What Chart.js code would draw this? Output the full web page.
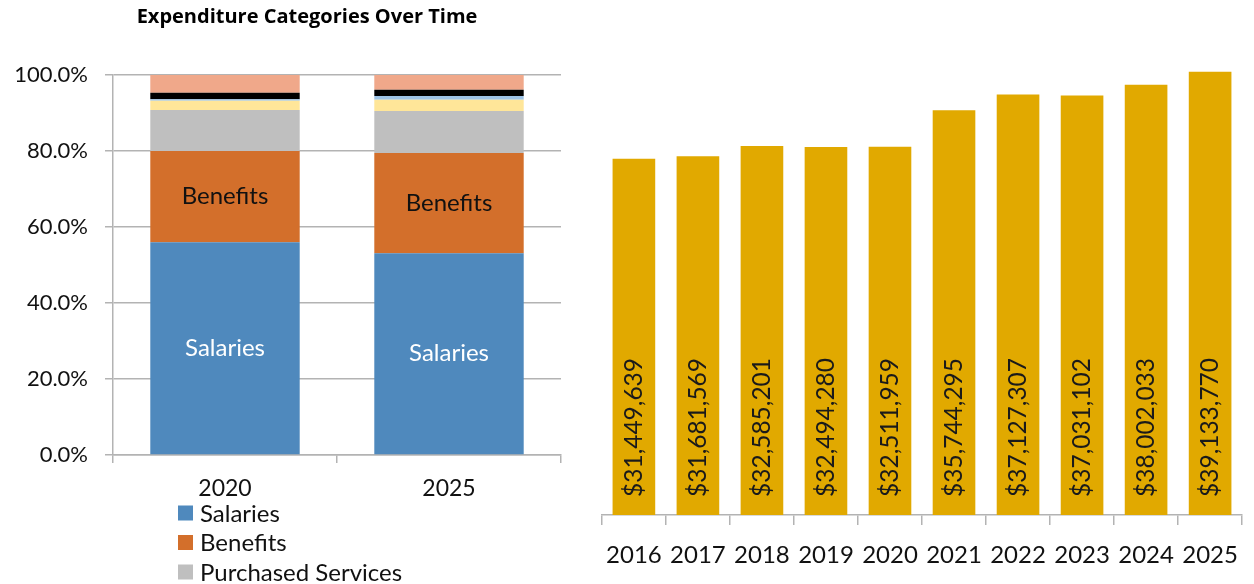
<!DOCTYPE html>
<html>
<head>
<meta charset="utf-8">
<script src="https://cdn.jsdelivr.net/npm/chart.js@4.4.1/dist/chart.umd.min.js"></script>
<style>
  html, body { margin: 0; padding: 0; background: #fff; overflow: hidden; }
  #shareChart { position: absolute; left: 0; top: 0; }
  #totalChart { position: absolute; left: 590px; top: 0; }
</style>
</head>
<body>
<canvas id="shareChart" width="614" height="584"></canvas>
<canvas id="totalChart" width="664" height="584"></canvas>
<script>
// share of spending by category (percent of total)
const shareYears = ['2020', '2025'];
const salaries = [56.0, 53.1];
const benefits = [24.0, 26.4];
const purchasedServices = [10.8, 11.0];
const supplies = [2.45, 3.0];
const property = [0.35, 1.0];
const debtService = [1.7, 1.6];
const otherCosts = [4.7, 3.9];
const shareTicks = [0, 20, 40, 60, 80, 100];

// total spending per year
const totalYears = ['2016', '2017', '2018', '2019', '2020', '2021', '2022', '2023', '2024', '2025'];
const totalSpending = [31449639, 31681569, 32585201, 32494280, 32511959, 35744295, 37127307, 37031102, 38002033, 39133770];

Chart.defaults.font.family = 'Lato, "Open Sans", sans-serif';
Chart.defaults.color = '#1a1a1a';

const GRID = '#b3b3b3';

function money(v) {
  return '$' + String(v).replace(/\B(?=(\d{3})+(?!\d))/g, ',');
}

// writes the series name inside the two big segments
const segmentLabels = {
  id: 'segmentLabels',
  afterDatasetsDraw(chart) {
    const ctx = chart.ctx;
    ctx.save();
    ctx.font = '24px Lato, sans-serif';
    ctx.textAlign = 'center';
    ctx.textBaseline = 'middle';
    [0, 1].forEach(i => {
      const ds = chart.data.datasets[i];
      ctx.fillStyle = i === 0 ? '#ffffff' : '#111111';
      chart.getDatasetMeta(i).data.forEach(bar => {
        ctx.fillText(ds.label, bar.x, (bar.y + bar.base) / 2);
      });
    });
    ctx.restore();
  }
};

// vertical legend under the x axis, runs off the bottom edge
const listLegend = {
  id: 'listLegend',
  afterDraw(chart) {
    const ctx = chart.ctx;
    ctx.save();
    ctx.font = '24px Lato, sans-serif';
    ctx.textAlign = 'left';
    ctx.textBaseline = 'middle';
    chart.data.datasets.forEach((ds, i) => {
      const y = 513 + i * 29.5;
      ctx.fillStyle = ds.backgroundColor;
      ctx.fillRect(178, y - 7.5, 15, 15);
      ctx.fillStyle = '#111111';
      ctx.fillText(ds.label, 200, y + 1);
    });
    ctx.restore();
  }
};

// rotated dollar amounts, reading upward from the base of each bar
const baseLabels = {
  id: 'baseLabels',
  afterDatasetsDraw(chart) {
    const ctx = chart.ctx;
    const values = chart.data.datasets[0].data;
    ctx.save();
    ctx.font = '24.5px Lato, sans-serif';
    ctx.fillStyle = '#1a1a1a';
    ctx.textAlign = 'left';
    ctx.textBaseline = 'alphabetic';
    chart.getDatasetMeta(0).data.forEach((bar, i) => {
      ctx.save();
      ctx.translate(bar.x + 8, bar.base - 18);
      ctx.rotate(-Math.PI / 2);
      ctx.fillText(money(values[i]), 0, 0);
      ctx.restore();
    });
    ctx.restore();
  }
};

function renderShareChart() {
  const series = [
    ['Salaries', salaries, '#4f89bd'],
    ['Benefits', benefits, '#d36f2b'],
    ['Purchased Services', purchasedServices, '#bfbfbf'],
    ['Supplies', supplies, '#ffe699'],
    ['Property', property, '#9dc3e6'],
    ['Debt Service', debtService, '#000000'],
    ['Other', otherCosts, '#f0a88a']
  ];

  new Chart(document.getElementById('shareChart'), {
    type: 'bar',
    data: {
      labels: shareYears,
      datasets: series.map(([label, data, color]) => ({
        label,
        data,
        backgroundColor: color,
        borderWidth: 0,
        categoryPercentage: 1,
        barPercentage: 0.667
      }))
    },
    options: {
      responsive: false,
      animation: false,
      layout: { padding: 0 },
      plugins: {
        legend: { display: false },
        tooltip: { enabled: false },
        title: {
          display: true,
          text: 'Expenditure Categories Over Time',
          color: '#000000',
          font: { family: '"Open Sans", Lato, sans-serif', size: 20, weight: 'bold' },
          padding: { top: 5, bottom: 46 }
        }
      },
      scales: {
        x: {
          stacked: true,
          afterFit: s => { s.height = 129; },
          grid: { drawOnChartArea: false, tickLength: 8, color: GRID, lineWidth: 1.5 },
          border: { color: GRID, width: 1.5 },
          ticks: { font: { size: 23 }, padding: 12, color: '#111111' }
        },
        y: {
          stacked: true,
          min: 0,
          max: 100,
          afterFit: s => { s.width = 113; },
          afterBuildTicks: s => { s.ticks = shareTicks.map(v => ({ value: v })); },
          grid: { tickLength: 8, color: GRID, lineWidth: 1.5 },
          border: { color: GRID, width: 1.5 },
          ticks: {
            font: { size: 22 },
            padding: 17,
            color: '#111111',
            callback: v => v.toFixed(1) + '%'
          }
        },
        // empty strip on the right so the title centres over the whole panel
        spacer: {
          type: 'linear',
          position: 'right',
          afterFit: s => { s.width = 53; },
          grid: { display: false },
          border: { display: false },
          ticks: { display: false }
        }
      }
    },
    plugins: [segmentLabels, listLegend]
  });
}

function renderTotalChart() {
  new Chart(document.getElementById('totalChart'), {
    type: 'bar',
    data: {
      labels: totalYears,
      datasets: [{
        label: 'Total Expenditures',
        data: totalSpending,
        backgroundColor: '#e1a900',
        borderWidth: 0,
        categoryPercentage: 1,
        barPercentage: 0.666
      }]
    },
    options: {
      responsive: false,
      animation: false,
      layout: { padding: { left: 10, right: 3, top: 62, bottom: 0 } },
      plugins: {
        legend: { display: false },
        tooltip: { enabled: false }
      },
      scales: {
        x: {
          afterFit: s => { s.height = 69; },
          grid: { drawOnChartArea: false, tickLength: 10, color: GRID, lineWidth: 1.5 },
          border: { color: GRID, width: 1.5 },
          ticks: { font: { size: 24 }, padding: 16, color: '#111111' }
        },
        y: {
          display: false,
          min: 0,
          max: 40000000
        }
      }
    },
    plugins: [baseLabels]
  });
}

renderShareChart();
renderTotalChart();
</script>
</body>
</html>
